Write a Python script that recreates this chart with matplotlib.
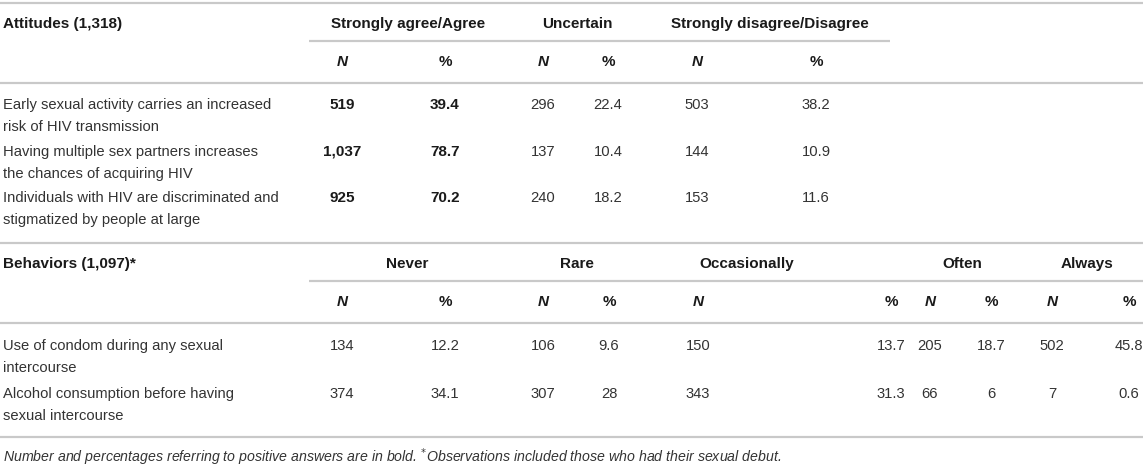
import matplotlib.pyplot as plt

plt.rcParams['font.family'] = ['Liberation Sans', 'DejaVu Sans']

# table content
attitude_title = 'Attitudes (1,318)'
attitude_groups = ['Strongly agree/Agree', 'Uncertain', 'Strongly disagree/Disagree']
attitude_items = ['Early sexual activity carries an increased\nrisk of HIV transmission',
                  'Having multiple sex partners increases\nthe chances of acquiring HIV',
                  'Individuals with HIV are discriminated and\nstigmatized by people at large']
attitude_n = [[519, 296, 503], [1037, 137, 144], [925, 240, 153]]
attitude_pct = [['39.4', '22.4', '38.2'], ['78.7', '10.4', '10.9'], ['70.2', '18.2', '11.6']]
attitude_bold = [True, False, False]

behavior_title = 'Behaviors (1,097)*'
behavior_groups = ['Never', 'Rare', 'Occasionally', 'Often', 'Always']
behavior_items = ['Use of condom during any sexual\nintercourse',
                  'Alcohol consumption before having\nsexual intercourse']
behavior_n = [[134, 106, 150, 205, 502], [374, 307, 343, 66, 7]]
behavior_pct = [['12.2', '9.6', '13.7', '18.7', '45.8'], ['34.1', '28', '31.3', '6', '0.6']]

note = ('Number and percentages referring to positive answers are in bold. '
        r'$^{*}$' 'Observations included those who had their sexual debut.')

# layout (pixels)
W, H = 1145, 468
FS = 10.6
FSB = 11.0
FSN = 10.15
LINE = '#c9c9c9'
TXT = '#333333'
HEAD = '#1a1a1a'

fig = plt.figure(figsize=(W / 100, H / 100), dpi=100)
ax = fig.add_axes([0, 0, 1, 1])
ax.set_xlim(0, W)
ax.set_ylim(H, 0)
ax.axis('off')


def rule(y, x0=0, x1=1143):
    ax.hlines(y, x0, x1, color=LINE, lw=1.6)


def block(top, title, groups, group_x, col_x, items, ns, pcts, bold, row_y, sub_end):
    rule(top)
    ax.text(3, top + 21, title, fontsize=FSB, fontweight='bold', color=HEAD, va='center')
    for g, gx in zip(groups, group_x):
        ax.text(gx, top + 21, g, fontsize=FSB, fontweight='bold', color=HEAD, va='center', ha='center')
    rule(top + 38, 309, sub_end)
    for i in range(len(groups)):
        ax.text(col_x[2 * i], top + 59, 'N', fontsize=FSB, fontweight='bold', style='italic',
                color=HEAD, va='center', ha='center')
        ax.text(col_x[2 * i + 1], top + 59, '%', fontsize=FSB, fontweight='bold',
                color=HEAD, va='center', ha='center')
    rule(top + 80)
    for r, item in enumerate(items):
        y = row_y[r]
        for k, line in enumerate(item.split('\n')):
            ax.text(3, y + k * 22, line, fontsize=FS, color=TXT, va='center')
        for i in range(len(groups)):
            if bold[i]:
                w, c, s = 'bold', HEAD, FSB
            else:
                w, c, s = 'normal', TXT, FS
            ax.text(col_x[2 * i], y, f'{ns[r][i]:,}', fontsize=s, fontweight=w, color=c,
                    va='center', ha='center')
            ax.text(col_x[2 * i + 1], y, pcts[r][i], fontsize=s, fontweight=w, color=c,
                    va='center', ha='center')


block(3, attitude_title, attitude_groups, [408, 577, 770],
      [342, 445, 543, 608, 697, 816], attitude_items, attitude_n, attitude_pct,
      attitude_bold, [105, 152, 198], 890)

block(243, behavior_title, behavior_groups, [407, 577, 747, 962, 1087],
      [342, 445, 543, 609, 698, 891, 930, 991, 1052, 1129], behavior_items,
      behavior_n, behavior_pct, [False] * 5, [346, 394], 1143)

rule(437)

ax.text(3, 457, note, fontsize=FSN, style='italic', color=TXT, va='center')

fig.savefig('out.png', dpi=100, facecolor='white')
